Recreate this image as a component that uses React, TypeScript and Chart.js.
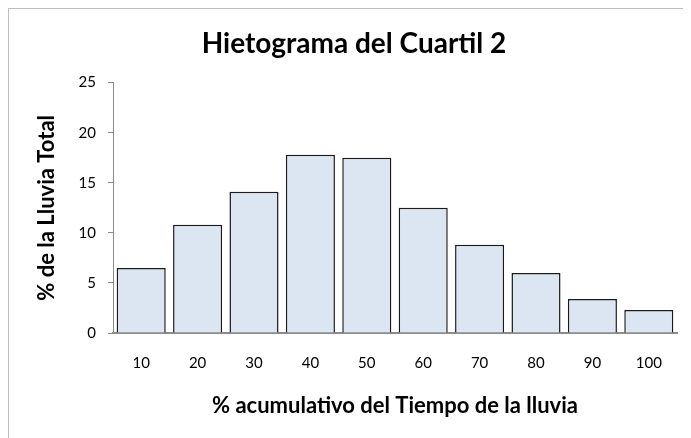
import React, { useEffect, useRef } from "react";
import { Chart, registerables } from "chart.js";

Chart.register(...registerables);

const categories = ["10", "20", "30", "40", "50", "60", "70", "80", "90", "100"];
const lluviaValues = [6.5, 10.8, 14.1, 17.8, 17.5, 12.5, 8.8, 6.0, 3.4, 2.3];
const yTicks = [0, 5, 10, 15, 20, 25];

const FONT = "Lato, 'Open Sans', sans-serif";

export default function App() {
  const ref = useRef<HTMLCanvasElement | null>(null);
  useEffect(() => {
    if (!ref.current) return;
    const chart = new Chart(ref.current, {
      type: "bar",
      data: {
        labels: categories,
        datasets: [
          {
            data: lluviaValues,
            backgroundColor: "#DCE6F2",
            borderColor: "#1a1a1a",
            borderWidth: 1.5,
            categoryPercentage: 1,
            barPercentage: 0.87,
            yAxisID: "y",
          },
        ],
      },
      options: {
        animation: false,
        responsive: false,
        layout: { padding: { left: 0, right: 0, top: 0, bottom: 0 } },
        plugins: {
          legend: { display: false },
          tooltip: { enabled: false },
          title: {
            display: true,
            text: "Hietograma del Cuartil 2",
            color: "#000",
            font: { family: FONT, size: 28, weight: "bold" },
            padding: { top: 18, bottom: 22 },
          },
        },
        scales: {
          x: {
            grid: { display: false, drawTicks: false },
            border: { display: true, color: "#8c8c8c", width: 2 },
            ticks: { color: "#000", font: { family: FONT, size: 15 }, padding: 21, maxRotation: 0 },
            title: {
              display: true,
              text: "% acumulativo del Tiempo de la lluvia",
              color: "#000",
              font: { family: FONT, size: 22, weight: "bold" },
              padding: { top: 2, bottom: 19 },
            },
            afterFit: (s: any) => {
              s.height = 105;
            },
          },
          y: {
            min: 0,
            max: 25,
            afterBuildTicks: (s: any) => {
              s.ticks = yTicks.map((v) => ({ value: v }));
            },
            grid: { drawOnChartArea: false, tickLength: 5, color: "#8c8c8c" },
            border: { display: true, color: "#8c8c8c", width: 1 },
            ticks: { color: "#000", font: { family: FONT, size: 15 }, padding: 12 },
            title: {
              display: true,
              text: "% de la Lluvia Total",
              color: "#000",
              font: { family: FONT, size: 22, weight: "bold" },
              padding: { top: 25, bottom: 0 },
            },
            afterFit: (s: any) => {
              s.width = 104;
            },
          },
          yRight: {
            position: "right",
            display: true,
            grid: { display: false, drawTicks: false },
            border: { display: false },
            ticks: { display: false },
            afterFit: (s: any) => {
              s.width = 22;
            },
          },
        },
      },
    });
    return () => chart.destroy();
  }, []);
  return (
    <div
      style={{
        width: 683,
        height: 430,
        boxSizing: "border-box",
        borderTop: "1px solid #bfbfbf",
        borderLeft: "1px solid #bfbfbf",
        background: "#fff",
        overflow: "hidden",
      }}
    >
      <canvas ref={ref} width={690} height={429} style={{ display: "block" }} />
    </div>
  );
}
